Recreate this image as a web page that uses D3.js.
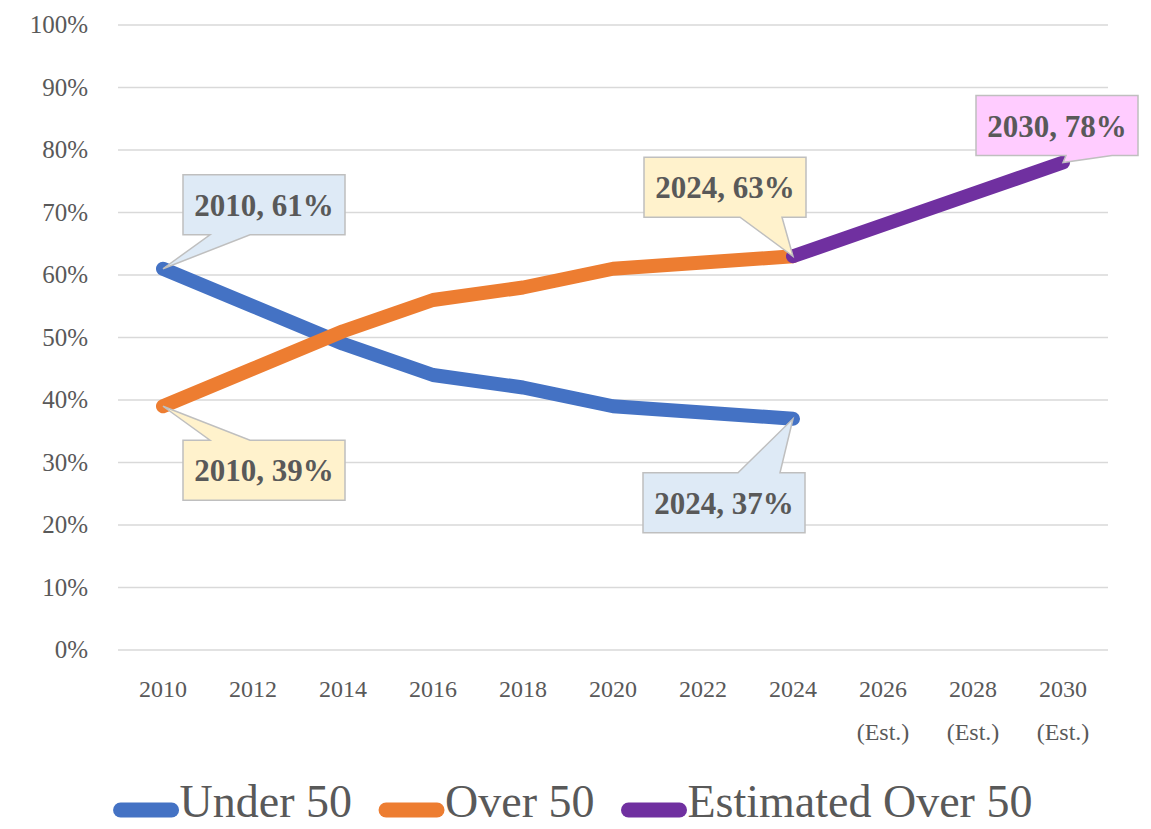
<!DOCTYPE html>
<html lang="en">
<head>
<meta charset="UTF-8">
<title>Under 50 vs Over 50</title>
<script src="https://d3js.org/d3.v7.min.js"></script>
<style>
  body { margin: 0; background: #fff; }
  text { font-family: "Liberation Serif", "DejaVu Serif", serif; fill: #595959; }
</style>
</head>
<body>
<script>
  // data
  const years = ["2010", "2012", "2014", "2016", "2018", "2020", "2022", "2024", "2026", "2028", "2030"]
  const estYears = ["2026", "2028", "2030"]
  const under50 = [61, 55, 49, 44, 42, 39, 38, 37]
  const over50 = [39, 45, 51, 56, 58, 61, 62, 63]
  const estOver50 = [63, 68, 73, 78]
  const estStart = 7 // estimated series starts at 2024
  const yTicks = [0, 10, 20, 30, 40, 50, 60, 70, 80, 90, 100]
  const seriesNames = ["Under 50", "Over 50", "Estimated Over 50"]
  const colors = ["#4472C4", "#ED7D31", "#7030A0"]

  const W = 1151, H = 829
  const svg = d3.select("body").append("svg")
    .attr("width", W).attr("height", H)

  const x = d3.scaleBand().domain(years).range([118, 1108])
  const cx = (yr) => x(yr) + x.bandwidth() / 2
  const y = d3.scaleLinear().domain([0, 100]).range([650, 25])

  // gridlines
  svg.append("g").selectAll("line")
    .data(yTicks).enter().append("line")
    .attr("x1", 118).attr("x2", 1108)
    .attr("y1", d => y(d)).attr("y2", d => y(d))
    .attr("stroke", "#d9d9d9").attr("stroke-width", 1.5)

  // y labels
  svg.append("g").selectAll("text")
    .data(yTicks).enter().append("text")
    .attr("x", 88).attr("y", d => y(d) + 8)
    .attr("text-anchor", "end")
    .style("font-size", "25px")
    .text(d => d + "%")

  // x labels
  const xl = svg.append("g").selectAll("text")
    .data(years).enter().append("text")
    .attr("x", d => cx(d)).attr("y", 697)
    .attr("text-anchor", "middle")
    .style("font-size", "24px")
  xl.append("tspan").text(d => d)
  xl.filter(d => estYears.includes(d)).append("tspan")
    .attr("x", d => cx(d)).attr("dy", 43).text("(Est.)")

  // lines
  const line = d3.line().x(d => cx(d.yr)).y(d => y(d.v))
  const series = [
    under50.map((v, i) => ({yr: years[i], v})),
    over50.map((v, i) => ({yr: years[i], v})),
    estOver50.map((v, i) => ({yr: years[estStart + i], v}))
  ]
  svg.append("g").selectAll("path")
    .data(series).enter().append("path")
    .attr("d", line)
    .attr("fill", "none")
    .attr("stroke", (d, i) => colors[i])
    .attr("stroke-width", 14)
    .attr("stroke-linecap", "round")
    .attr("stroke-linejoin", "round")

  // callouts: series index, point index, box offset, pointer base, side
  const callouts = [
    {s: 0, i: 0, dx: 20, dy: -94, b1: 27, b2: 67, side: "bottom", fill: "#DEEAF6"},
    {s: 1, i: 0, dx: 20, dy: 34, b1: 27, b2: 67, side: "top", fill: "#FFF2CC"},
    {s: 0, i: 7, dx: -150, dy: 54, b1: 95, b2: 137, side: "top", fill: "#DEEAF6"},
    {s: 1, i: 7, dx: -149, dy: -99, b1: 96, b2: 138, side: "bottom", fill: "#FFF2CC"},
    {s: 2, i: 3, dx: -87, dy: -67, b1: 90, b2: 136, side: "bottom", fill: "#FFCCFF"}
  ]
  const bw = 162, bh = 60
  const cg = svg.append("g")
  callouts.forEach(c => {
    const d = series[c.s][c.i]
    const px = cx(d.yr), py = y(d.v)
    const l = px + c.dx, t = py + c.dy, r = l + bw, b = t + bh
    let p
    if (c.side === "bottom") {
      p = `M${l},${t}H${r}V${b}H${l + c.b2}L${px},${py}L${l + c.b1},${b}H${l}Z`
    } else {
      p = `M${l},${t}H${l + c.b1}L${px},${py}L${l + c.b2},${t}H${r}V${b}H${l}Z`
    }
    cg.append("path").attr("d", p)
      .attr("fill", c.fill).attr("stroke", "#bfbfbf").attr("stroke-width", 1.5)
    cg.append("text")
      .attr("x", l + bw / 2).attr("y", t + 41)
      .attr("text-anchor", "middle")
      .style("font-size", "31px").style("font-weight", "bold")
      .text(d.yr + ", " + d.v + "%")
  })

  // legend
  const lg = svg.append("g")
  let lx = 0
  seriesNames.forEach((name, i) => {
    lg.append("line")
      .attr("x1", lx + 7).attr("x2", lx + 58)
      .attr("y1", 810).attr("y2", 810)
      .attr("stroke", colors[i]).attr("stroke-width", 15)
      .attr("stroke-linecap", "round")
    const t = lg.append("text")
      .attr("x", lx + 66).attr("y", 817)
      .style("font-size", "46px")
      .text(name)
    lx += 66 + t.node().getComputedTextLength() + 27
  })
  lx -= 27
  lg.attr("transform", `translate(${573 - lx / 2},0)`)
</script>
</body>
</html>
